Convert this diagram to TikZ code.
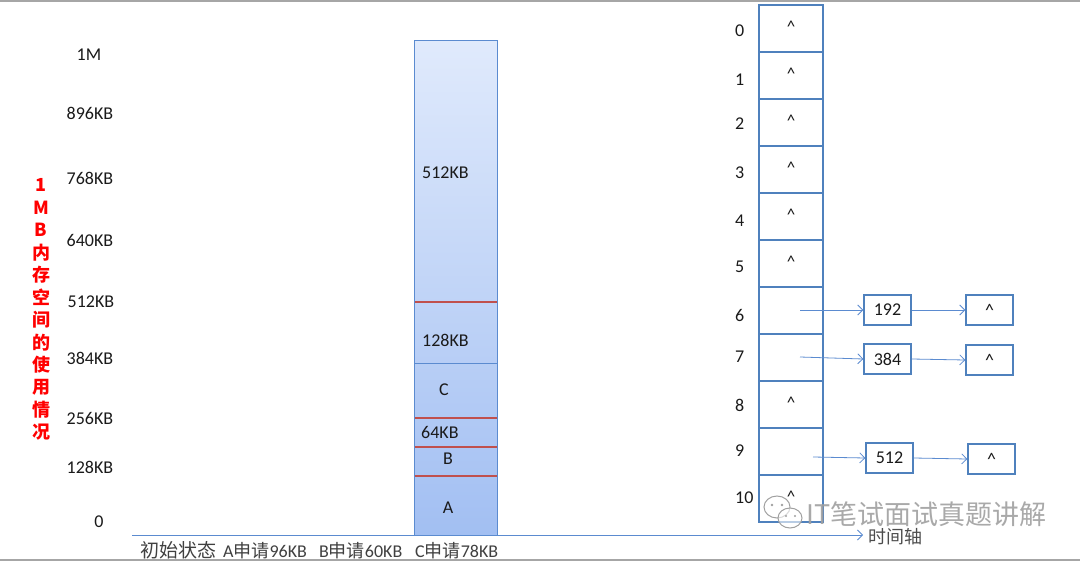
\documentclass[tikz,border=0pt]{standalone}
\usepackage{fontspec}
\setmainfont{Carlito}
\newfontfamily\cjk{Noto Sans CJK SC}
\usetikzlibrary{arrows.meta}
\definecolor{boxblue}{HTML}{4F81BD}
\definecolor{lineblue}{HTML}{5B8BD0}
\definecolor{redline}{HTML}{C0504D}
\definecolor{txt}{HTML}{1A1A1A}
\definecolor{wm}{HTML}{A0A0A0}
\begin{document}
\begin{tikzpicture}[x=1pt,y=-1pt,
  lbl/.style={font=\fontsize{18}{21}\selectfont, text=txt, inner sep=0pt},
  lbll/.style={lbl, anchor=west},
  cell/.style={draw=boxblue, line width=1.4pt, minimum width=64pt, minimum height=47pt, inner sep=0pt, font=\fontsize{17}{19}\selectfont, text=txt},
  lnode/.style={draw=boxblue, line width=1.4pt, fill=white, minimum width=47pt, minimum height=30pt, inner sep=0pt, font=\fontsize{18}{21}\selectfont, text=txt},
  conn/.style={draw=lineblue, line width=0.8pt, -{Straight Barb[length=5pt,width=10pt]}},
  redsep/.style={draw=redline, line width=1.6pt},
  vlab/.style={font=\cjk\bfseries\fontsize{18}{20}\selectfont, text=red, inner sep=0pt}
]
\useasboundingbox (0,0) rectangle (1080,562);
\fill[white] (0,0) rectangle (1080,562);
% frame lines
\draw[color=black!35, line width=1.5pt] (0,1) -- (1080,1);
\draw[color=black!35, line width=1.5pt] (0,560) -- (1080,560);

% left scale
\node[lbl] (l1m) at (89,55) {1M};
\node[lbl] (l896) at (90,113) {896KB};
\node[lbl] (l768) at (90,178) {768KB};
\node[lbl] (l640) at (90,240) {640KB};
\node[lbl] (l512) at (91,302) {512KB};
\node[lbl] (l384) at (90,358) {384KB};
\node[lbl] (l256) at (90,418) {256KB};
\node[lbl] (l128) at (90,467) {128KB};
\node[lbl] (l0) at (99,522) {0};

% red vertical label
\foreach \c [count=\i from 0] in {1,M,B,内,存,空,间,的,使,用,情,况}
  \node[vlab] (v\i) at (41,{185+22.5*\i}) {\c};

% memory column
\shade[top color={rgb,255:red,224;green,234;blue,252}, bottom color={rgb,255:red,162;green,191;blue,242}] (414,40) rectangle (497,535);
\node[draw=lineblue, line width=0.9pt, minimum width=83pt, minimum height=495pt, inner sep=0pt] (col) at (455.5,287.5) {};
\draw[redsep] (414.5,302) -- (496.5,302);
\draw[draw=lineblue, line width=0.8pt] (414.5,363) -- (496.5,363);
\draw[redsep] (414.5,418) -- (496.5,418);
\draw[redsep] (414.5,447) -- (496.5,447);
\draw[redsep] (414.5,476) -- (496.5,476);
\node[lbll] (c512) at (422,173) {512KB};
\node[lbll] (c128) at (422,340) {128KB};
\node[lbl] (cC) at (444,390) {C};
\node[lbll] (c64) at (421,432) {64KB};
\node[lbl] (cB) at (448,459) {B};
\node[lbl] (cA) at (448,508) {A};

% time axis
\coordinate (t0) at (132,535);
\coordinate (t1) at (863,535);
\draw[conn] (t0) -- (t1);
\node[font=\cjk\fontsize{18}{21}\selectfont, text=black!70, inner sep=0pt] (tl) at (895,537) {时间轴};
\node[anchor=west, inner sep=0pt, text=black!75, font=\fontsize{18}{21}\selectfont] (steps) at (140,550)
  {\makebox[83pt][l]{\cjk\fontsize{19}{21}\selectfont 初始状态}\makebox[96pt][l]{A{\cjk 申请}96KB}\makebox[96pt][l]{B{\cjk 申请}60KB}C{\cjk 申请}78KB};

% hash array
\foreach \i/\t/\yy in {0/\textasciicircum/31,1/\textasciicircum/80,2/\textasciicircum/124,3/\textasciicircum/173,4/\textasciicircum/221,5/\textasciicircum/267,6//315,7//357,8/\textasciicircum/405,9//451,10/\textasciicircum/498}{
  \node[cell] (r\i) at (791,{28.5+47*\i}) {\raisebox{3pt}{\t}};
  \node[lbll] (i\i) at (735,\yy) {\i};
}

% lists
\node[lnode] (n6) at (887.5,310) {192};
\node[lnode] (e6) at (989.5,310) {\textasciicircum};
\node[lnode] (n7) at (887.5,359) {384};
\node[lnode] (e7) at (989.5,360) {\textasciicircum};
\node[lnode] (n9) at (889.5,458) {512};
\node[lnode] (e9) at (991.5,459) {\textasciicircum};
\coordinate (s6) at (800,310);
\coordinate (s7) at (800,357);
\coordinate (s9) at (813,457);
\draw[conn] (s6) -- (n6.west);
\draw[conn] (n6.east) -- (e6.west);
\draw[conn] (s7) -- (n7.west);
\draw[conn] (n7.east) -- (e7.west);
\draw[conn] (s9) -- (n9.west);
\draw[conn] (n9.east) -- (e9.west);

% watermark
\begin{scope}[draw=wm, line width=1pt]
  \draw[fill=white, fill opacity=0.6] (777,507) ellipse (13pt and 11pt);
  \draw[fill=white, fill opacity=0.6] (790,518) ellipse (12pt and 10pt);
  \fill[wm] (772,505) circle (1.3pt) (782,505) circle (1.3pt) (786,516) circle (1.2pt) (795,516) circle (1.2pt);
\end{scope}
\node[anchor=west, inner sep=0pt, text=wm, opacity=0.9, font=\cjk\fontsize{27}{30}\selectfont] (wmt) at (806,514) {IT笔试面试真题讲解};
\end{tikzpicture}
\end{document}
